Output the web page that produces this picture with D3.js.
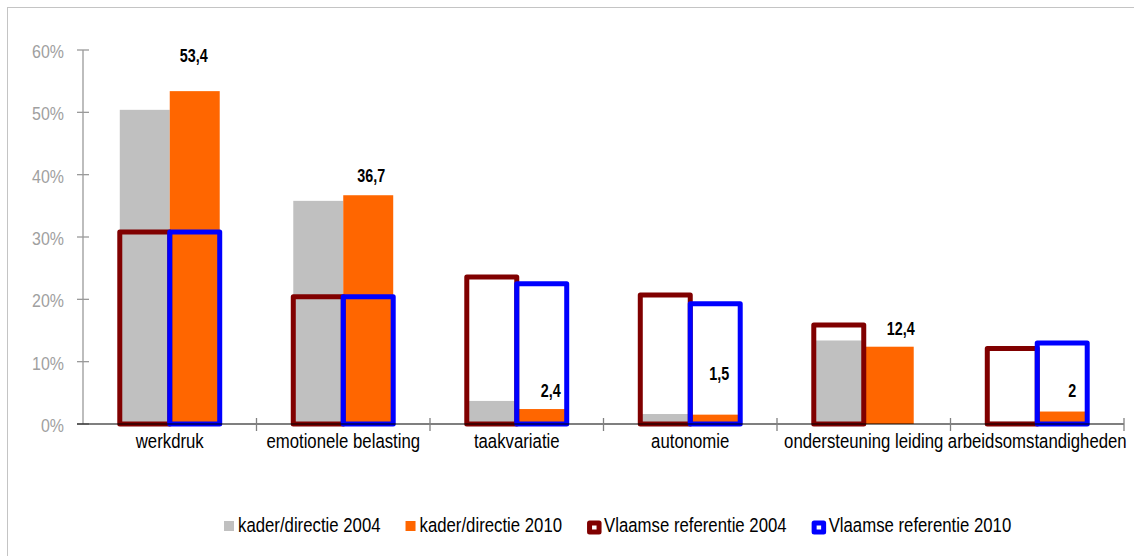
<!DOCTYPE html>
<html>
<head>
<meta charset="utf-8">
<script src="https://cdn.jsdelivr.net/npm/d3@7"></script>
<style>
  html, body { margin: 0; padding: 0; background: #fff; }
  svg { display: block; }
  text { font-family: "Liberation Sans", Arial, sans-serif; }
</style>
</head>
<body>
<svg id="chart" width="1134" height="556"></svg>
<script>
// ---------- data ----------
const categories = ["werkdruk", "emotionele belasting", "taakvariatie", "autonomie", "ondersteuning leiding", "arbeidsomstandigheden"];
const kader2004 = [50.4, 35.8, 3.7, 1.6, 13.4, 0.4];
const kader2010 = [53.4, 36.7, 2.4, 1.5, 12.4, 2.0];
const vlaams2004 = [30.8, 20.4, 23.6, 20.7, 15.9, 12.1];
const vlaams2010 = [30.8, 20.4, 22.5, 19.3, null, 13.0];
const valueLabels = ["53,4", "36,7", "2,4", "1,5", "12,4", "2"];
const yTicks = [0, 10, 20, 30, 40, 50, 60];
const seriesNames = ["kader/directie 2004", "kader/directie 2010", "Vlaamse referentie 2004", "Vlaamse referentie 2010"];

// ---------- layout / style ----------
const colors = { gray: "#c0c0c0", orange: "#ff6600", maroon: "#800000", blue: "#0000ff" };
// manual nudges for the value labels (relative to top of orange bar), as in the original
const labelNudge = [[-1, 29], [3, 13], [9, 12], [4, 35], [12, 12], [10, 15]];
const narrow = 0.86;

const svg = d3.select("#chart");
const plot = { left: 83, right: 1124, top: 50, bottom: 424 };

// frame
svg.append("rect").attr("x", 7.5).attr("y", 7.5).attr("width", 1140).attr("height", 560)
  .attr("fill", "none").attr("stroke", "#c4c4c4").attr("stroke-width", 1);

const x = d3.scaleBand().domain(categories).range([plot.left, plot.right]);
const y = d3.scaleLinear().domain([0, 60]).range([plot.bottom, plot.top]);
const barW = x.bandwidth() * 0.288;
const leftX = c => x(c) + x.bandwidth() / 2 - barW;
const rightX = c => x(c) + x.bandwidth() / 2;

function ntext(g, tx, ty, str, opts) {
  const sx = opts.sx || narrow;
  const t = g.append("text")
    .attr("transform", `translate(${tx},${ty}) scale(${sx},1)`)
    .attr("text-anchor", opts.anchor || "start")
    .attr("font-size", opts.size)
    .attr("fill", opts.fill || "#000")
    .text(str);
  if (opts.bold) t.attr("font-weight", "bold");
  return t;
}

// y axis
const yAxis = svg.append("g");
yAxis.append("line").attr("x1", plot.left).attr("x2", plot.left)
  .attr("y1", y(60)).attr("y2", y(0)).attr("stroke", "#9a9a9a").attr("stroke-width", 1.3);
yTicks.forEach(t => {
  yAxis.append("line").attr("x1", plot.left - 6).attr("x2", plot.left + 6)
    .attr("y1", y(t)).attr("y2", y(t)).attr("stroke", "#9a9a9a").attr("stroke-width", 1.3);
  ntext(yAxis, plot.left - 19, y(t) + 8, t + "%", { anchor: "end", size: 19, fill: "#a0a0a0", sx: 0.84 });
});

// filled bars
svg.append("g").selectAll("rect").data(categories).join("rect")
  .attr("x", c => leftX(c)).attr("width", barW)
  .attr("y", (c, i) => y(kader2004[i])).attr("height", (c, i) => y(0) - y(kader2004[i]))
  .attr("fill", colors.gray);
svg.append("g").selectAll("rect").data(categories).join("rect")
  .attr("x", c => rightX(c)).attr("width", barW)
  .attr("y", (c, i) => y(kader2010[i])).attr("height", (c, i) => y(0) - y(kader2010[i]))
  .attr("fill", colors.orange);

// outlined reference bars
svg.append("g").selectAll("rect").data(categories.filter((c, i) => vlaams2004[i] != null)).join("rect")
  .attr("x", c => leftX(c)).attr("width", barW)
  .attr("y", c => y(vlaams2004[categories.indexOf(c)]))
  .attr("height", c => y(0) - y(vlaams2004[categories.indexOf(c)]))
  .attr("fill", "none").attr("stroke", colors.maroon).attr("stroke-width", 5).attr("stroke-linejoin", "round");
svg.append("g").selectAll("rect").data(categories.filter((c, i) => vlaams2010[i] != null)).join("rect")
  .attr("x", c => rightX(c)).attr("width", barW)
  .attr("y", c => y(vlaams2010[categories.indexOf(c)]))
  .attr("height", c => y(0) - y(vlaams2010[categories.indexOf(c)]))
  .attr("fill", "none").attr("stroke", colors.blue).attr("stroke-width", 5).attr("stroke-linejoin", "round");

// x axis
const xAxis = svg.append("g");
xAxis.append("line").attr("x1", plot.left - 6).attr("x2", plot.right)
  .attr("y1", y(0)).attr("y2", y(0)).attr("stroke", "#000").attr("stroke-width", 1.2);
categories.forEach((c, i) => {
  const bx = x(c) + x.bandwidth();
  xAxis.append("line").attr("x1", bx).attr("x2", bx).attr("y1", y(0) - 6).attr("y2", y(0) + 7)
    .attr("stroke", "#808080").attr("stroke-width", 1.3);
  ntext(xAxis, x(c) + x.bandwidth() / 2, 448, c, { anchor: "middle", size: 19.5, fill: "#000" });
});

// value labels
const lab = svg.append("g");
categories.forEach((c, i) => {
  ntext(lab, rightX(c) + barW / 2 + labelNudge[i][0], y(kader2010[i]) - labelNudge[i][1],
    valueLabels[i], { anchor: "middle", size: 17.5, bold: true, fill: "#000", sx: 0.82 });
});

// legend
const leg = svg.append("g");
let cx = 224;
const legY = 532;
seriesNames.forEach((name, i) => {
  let textX;
  if (i < 2) {
    leg.append("rect").attr("x", cx).attr("y", legY - 11).attr("width", 10).attr("height", 10)
      .attr("fill", i === 0 ? colors.gray : colors.orange);
    textX = cx + 14;
  } else {
    leg.append("rect").attr("x", cx + 2.5).attr("y", legY - 9).attr("width", 9.5).attr("height", 9)
      .attr("fill", "#fff").attr("stroke", i === 2 ? colors.maroon : colors.blue)
      .attr("stroke-width", 5).attr("stroke-linejoin", "round");
    textX = cx + 17;
  }
  const t = ntext(leg, textX, legY, name, { anchor: "start", size: 19.5, fill: "#000" });
  const w = t.node().getComputedTextLength() * narrow;
  cx = textX + w + 25;
});
</script>
</body>
</html>
